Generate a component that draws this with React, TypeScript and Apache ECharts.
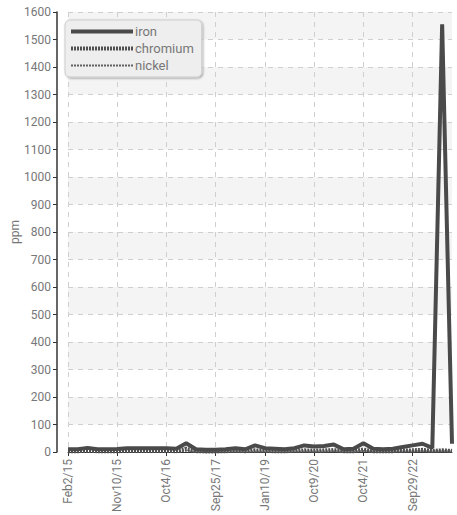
import React, { useEffect, useRef } from "react";
import * as echarts from "echarts";

const dates = [
  "Feb2/15", "Mar30/15", "May18/15", "Jul6/15", "Aug24/15",
  "Nov10/15", "Jan4/16", "Mar7/16", "May9/16", "Jul18/16",
  "Oct4/16", "Dec12/16", "Feb20/17", "May1/17", "Jul10/17",
  "Sep25/17", "Dec11/17", "Mar19/18", "Jun25/18", "Oct1/18",
  "Jan10/19", "Apr22/19", "Aug5/19", "Nov18/19", "Mar9/20",
  "Oct9/20", "Dec14/20", "Mar1/21", "May17/21", "Jul26/21",
  "Oct4/21", "Dec13/21", "Mar7/22", "May16/22", "Jul25/22",
  "Sep29/22", "Dec5/22", "Feb13/23", "Apr24/23", "Jul3/23",
];

const iron = [
  10, 10, 15, 10, 10,
  11, 14, 14, 14, 14,
  14, 12, 32, 10, 8,
  8, 10, 14, 10, 24,
  14, 12, 10, 14, 24,
  20, 22, 27, 10, 12,
  32, 12, 10, 12, 18,
  24, 30, 15, 1555, 30,
];

const chromium = [
  3, 3, 4, 3, 3,
  3, 4, 4, 4, 4,
  4, 3, 12, 3, 2,
  2, 3, 4, 3, 6,
  4, 3, 3, 4, 6,
  5, 6, 7, 3, 3,
  9, 3, 3, 3, 5,
  6, 8, 4, 6, 4,
];

const nickel = [
  1, 1, 2, 1, 1,
  1, 2, 2, 2, 2,
  2, 1, 5, 1, 1,
  1, 1, 2, 1, 2,
  2, 1, 1, 2, 2,
  2, 2, 3, 1, 1,
  4, 1, 1, 1, 2,
  2, 3, 2, 3, 2,
];

const FONT = "Roboto, 'Noto Sans', sans-serif";

export default function App() {
  const ref = useRef<HTMLDivElement>(null);
  useEffect(() => {
    if (!ref.current) return;
    const chart = echarts.init(ref.current, undefined, { renderer: "svg" });
    chart.setOption({
      animation: false,
      backgroundColor: "#fff",
      textStyle: { fontFamily: FONT },
      grid: {
        left: 68,
        right: 5,
        top: 12,
        bottom: 63,
        containLabel: false,
        outerBoundsMode: "none",
      },
      legend: {
        orient: "vertical",
        left: 65,
        top: 20,
        padding: [5, 8, 5, 4],
        itemGap: 4,
        itemWidth: 62,
        itemHeight: 14,
        backgroundColor: "#eeeeee",
        borderColor: "#cccccc",
        borderWidth: 1,
        borderRadius: 5,
        shadowBlur: 2,
        shadowColor: "rgba(0,0,0,0.35)",
        shadowOffsetX: 1,
        shadowOffsetY: 1,
        itemStyle: { opacity: 0, borderWidth: 0 },
        textStyle: { color: "#777", fontSize: 13, fontFamily: FONT, padding: [0, 0, 0, -3] },
        data: [
          { name: "iron", lineStyle: { width: 4 } },
          { name: "chromium", lineStyle: { width: 4 } },
          { name: "nickel", lineStyle: { width: 2 } },
        ],
      },
      xAxis: {
        type: "category",
        data: dates,
        boundaryGap: false,
        axisLine: { show: true, lineStyle: { color: "#333", width: 1 } },
        axisTick: {
          show: true,
          interval: 4,
          length: 4,
          lineStyle: { color: "#333" },
        },
        axisLabel: {
          interval: 4,
          rotate: 90,
          color: "#777",
          fontSize: 12,
          fontFamily: FONT,
          margin: 7,
        },
        splitLine: {
          show: true,
          interval: 4,
          lineStyle: { color: "#cfcfcf", type: [5, 5], width: 1 },
        },
      },
      yAxis: {
        type: "value",
        min: 0,
        max: 1600,
        interval: 100,
        offset: 11,
        name: "ppm",
        nameLocation: "middle",
        nameGap: 36,
        nameMoveOverlap: false,
        nameTextStyle: { color: "#777", fontSize: 12, fontFamily: FONT },
        axisLine: { show: true, lineStyle: { color: "#333", width: 1.5 } },
        axisTick: { show: true, length: 4, lineStyle: { color: "#333" } },
        axisLabel: {
          color: "#777",
          fontSize: 12,
          fontFamily: FONT,
          margin: 6,
          formatter: (v: number) => String(v),
        },
        splitLine: { show: true, lineStyle: { color: "#cfcfcf", type: [5, 5], width: 1 } },
        splitArea: { show: true, areaStyle: { color: ["#ffffff", "#f4f4f4"] } },
      },
      series: [
        {
          name: "iron",
          type: "line",
          data: iron,
          symbol: "none",
          lineStyle: { color: "#4a4a4a", width: 4 },
          itemStyle: { color: "#4a4a4a" },
          z: 4,
        },
        {
          name: "chromium",
          type: "line",
          data: chromium,
          symbol: "none",
          lineStyle: { color: "#505050", width: 4, type: [2, 1] },
          itemStyle: { color: "#505050" },
          z: 3,
        },
        {
          name: "nickel",
          type: "line",
          data: nickel,
          symbol: "none",
          lineStyle: { color: "#606060", width: 2, type: [2, 1] },
          itemStyle: { color: "#606060" },
          z: 2,
        },
      ],
    });
    return () => chart.dispose();
  }, []);
  return (
    <div
      ref={ref}
      style={{ position: "fixed", left: 0, top: 0, width: 457, height: 515 }}
    />
  );
}
